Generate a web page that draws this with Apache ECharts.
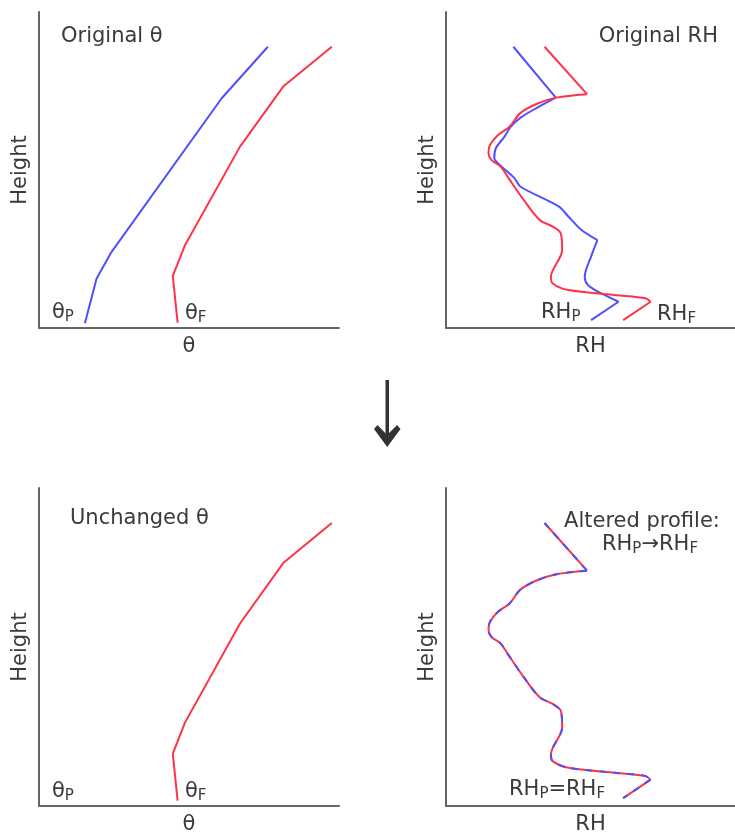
<!DOCTYPE html>
<html><head><meta charset="utf-8">
<script src="https://cdn.jsdelivr.net/npm/echarts@6/dist/echarts.min.js"></script>
<style>html,body{margin:0;padding:0;background:#fff}#c{width:735px;height:836px}</style>
</head><body><div id="c"></div>
<script>
// theta profiles: [value, height]
const thetaP = [[15.3,1.5],[19.2,15.7],[24.2,24.1],[60.9,72.7],[76.3,89.0]];
const thetaF = [[46.2,1.7],[44.6,16.5],[48.7,26.3],[67.0,57.4],[81.4,76.4],[97.6,89.0]];
// RH profiles: [value, height]
const rhP = [[23.3,89.0],[38.0,72.9],[31.3,69.6],[25.7,66.5],[22.3,63.6],[20.2,60.5],[17.3,57.0],[16.7,53.8],[18.6,51.6],[23.6,47.5],[25.8,44.7],[39.1,38.4],[42.4,35.2],[46.9,31.0],[52.4,27.8],[50.2,22.6],[48.0,16.2],[49.1,13.6],[53.6,11.0],[59.7,8.3],[50.2,2.5]];
const rhF = [[34.1,89.0],[48.8,74.0],[38.2,72.9],[31.3,70.9],[25.7,68.0],[21.9,63.6],[18.0,61.1],[15.2,57.9],[14.7,55.4],[15.7,53.2],[19.0,51.0],[21.3,47.9],[26.9,40.5],[32.4,34.2],[36.9,32.1],[39.7,30.0],[40.2,24.7],[36.3,16.2],[36.9,14.1],[42.4,12.0],[59.1,10.4],[69.1,9.4],[70.8,8.3],[61.3,2.5]];
// indices of sharp corners in the RH profiles
const rhPKinks = [1,14,19];
const rhFKinks = [1,22];
const xNames = ['θ','RH','θ','RH'];
const yName = 'Height';

const BLUE = '#4f4fff', RED = '#ff3347', TXT = '#3a3a3a', AX = '#666';
const FONT = 'DejaVu Sans';
const FS = 21;
const grids = [
  {left:39, top:12, width:300, height:316},
  {left:446, top:12, width:300, height:316},
  {left:39, top:488, width:300, height:318},
  {left:446, top:488, width:300, height:318}
];
const xAxis = grids.map((g,i)=>({type:'value', gridIndex:i, min:0, max:100, name:xNames[i], nameLocation:'middle', nameGap:8,
  nameTextStyle:{fontFamily:FONT, fontSize:FS, color:TXT, verticalAlign:'top'},
  axisLine:{show:true, lineStyle:{color:AX, width:2}}, axisTick:{show:false}, axisLabel:{show:false}, splitLine:{show:false}}));
const yAxis = grids.map((g,i)=>({type:'value', gridIndex:i, min:0, max:100, name:yName, nameLocation:'middle', nameGap:8, nameRotate:90,
  nameTextStyle:{fontFamily:FONT, fontSize:FS, color:TXT},
  axisLine:{show:true, lineStyle:{color:AX, width:2}}, axisTick:{show:false}, axisLabel:{show:false}, splitLine:{show:false}}));

function line(data, idx, color, extra){
  return Object.assign({type:'line', xAxisIndex:idx, yAxisIndex:idx, data:data, showSymbol:false, symbol:'none',
    lineStyle:{color:color, width:2}, silent:true, animation:false}, extra||{});
}
// split a profile at its corners, smooth within each piece
function pieces(arr, kinks, idx, color, ls){
  const cuts = [0].concat(kinks, [arr.length-1]);
  const out = [];
  for (let k=0;k<cuts.length-1;k++){
    out.push(line(arr.slice(cuts[k], cuts[k+1]+1), idx, color, {smooth:0.3, lineStyle:Object.assign({color:color,width:2}, ls||{})}));
  }
  return out;
}
const series = [
  line(thetaP,0,BLUE), line(thetaF,0,RED),
  ...pieces(rhP, rhPKinks, 1, BLUE), ...pieces(rhF, rhFKinks, 1, RED),
  line(thetaF,2,RED),
  ...pieces(rhF, rhFKinks, 3, RED), ...pieces(rhF, rhFKinks, 3, BLUE, {type:[7,7]})
];
const rich = {
  n:{fontFamily:FONT, fontSize:FS, color:TXT},
  s:{fontFamily:FONT, fontSize:15, color:TXT, padding:[8,0,0,0]}
};
function txt(x,y,t,align){
  return {type:'text', x:x, y:y, style:{text:t, rich:rich, fontFamily:FONT, fontSize:FS, fill:TXT, align:align||'left', verticalAlign:'middle'}};
}
const graphic = [
  txt(61,37,'{n|Original θ}'),
  txt(52,313,'{n|θ}{s|P}'),
  txt(185,314,'{n|θ}{s|F}'),
  txt(718,37,'{n|Original RH}','right'),
  txt(541,313,'{n|RH}{s|P}'),
  txt(657,315,'{n|RH}{s|F}'),
  txt(70,519,'{n|Unchanged θ}'),
  txt(52,792,'{n|θ}{s|P}'),
  txt(185,792,'{n|θ}{s|F}'),
  txt(642,522,'{n|Altered profile:}','center'),
  txt(650,545,'{n|RH}{s|P}{n|→RH}{s|F}','center'),
  txt(509,790,'{n|RH}{s|P}{n|=RH}{s|F}'),
  {type:'rect', shape:{x:385.5, y:380, width:3.5, height:58}, style:{fill:'#333'}},
  {type:'polygon', shape:{points:[[374,429],[377.5,425],[387.2,435],[397,425],[400.5,429],[387.2,447]]}, style:{fill:'#333'}}
];
const chart = echarts.init(document.getElementById('c'), null, {renderer:'canvas'});
chart.setOption({animation:false, backgroundColor:'#fff', grid:grids, xAxis:xAxis, yAxis:yAxis, series:series, graphic:graphic});
</script></body></html>
